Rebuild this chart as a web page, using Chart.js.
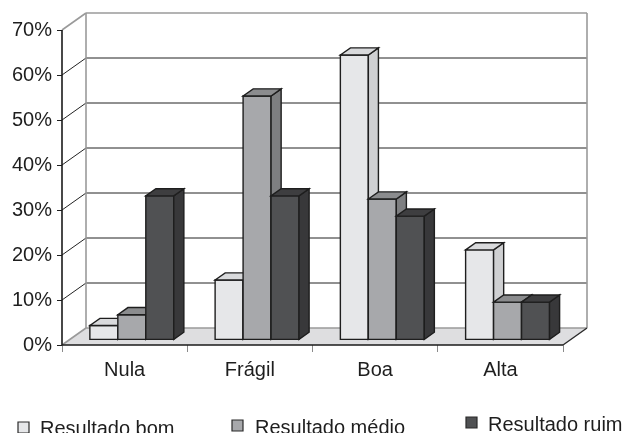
<!DOCTYPE html>
<html>
<head>
<meta charset="utf-8">
<script src="https://cdn.jsdelivr.net/npm/chart.js@4.4.1/dist/chart.umd.min.js"></script>
<style>
  html, body { margin: 0; padding: 0; background: #ffffff; }
  canvas { display: block; }
</style>
</head>
<body>
<canvas id="c" width="629" height="433"></canvas>
<script>
// Categories and series values (percent)
const categories = ['Nula', 'Frágil', 'Boa', 'Alta'];
const resultadoBom = [3.2, 13.3, 63.3, 20.0];
const resultadoMedio = [5.6, 54.2, 31.3, 8.4];
const resultadoRuim = [32.0, 32.0, 27.5, 8.4];
const seriesNames = ['Resultado bom', 'Resultado médio', 'Resultado ruim'];
const yMin = 0, yMax = 70, yStep = 10;

// Shading for each series: front, top, side faces
const palette = [
  { front: '#e6e7e9', top: '#d9dadc', side: '#cfd0d2' },
  { front: '#a7a8ab', top: '#8b8c8e', side: '#7e7f81' },
  { front: '#505153', top: '#3e3e40', side: '#38383a' }
];

// 3D projection: full floor depth, bar placement inside it
const DEPTH = { dx: 24, dy: 17 };
const BAR_FRONT = 0.30;   // fraction of depth where bar front faces sit
const BAR_DEPTH = 0.42;   // fraction of depth taken by each bar
const EDGE = '#1e1e1e';
const WALL_EDGE = '#9a9a9a';
const FONT = '"Liberation Sans", Arial, sans-serif';

const legendLayout = [
  { box: [18, 422], text: [40, 435] },
  { box: [232, 420], text: [255, 433.5] },
  { box: [466, 417], text: [488, 431] }
];

function poly(ctx, pts, fill, stroke, lw) {
  ctx.beginPath();
  ctx.moveTo(pts[0][0], pts[0][1]);
  for (let i = 1; i < pts.length; i++) ctx.lineTo(pts[i][0], pts[i][1]);
  ctx.closePath();
  if (fill) { ctx.fillStyle = fill; ctx.fill(); }
  if (stroke) { ctx.strokeStyle = stroke; ctx.lineWidth = lw || 1; ctx.stroke(); }
}

function line(ctx, x1, y1, x2, y2, color, lw) {
  ctx.beginPath();
  ctx.moveTo(x1, y1);
  ctx.lineTo(x2, y2);
  ctx.strokeStyle = color;
  ctx.lineWidth = lw || 1;
  ctx.stroke();
}

const walls3d = {
  id: 'walls3d',
  beforeDatasetsDraw(chart) {
    const { ctx, chartArea: a, scales: { y } } = chart;
    const { dx, dy } = DEPTH;
    ctx.save();
    const y0 = y.getPixelForValue(yMin);
    const yTop = y.getPixelForValue(yMax);
    // floor
    poly(ctx, [[a.left, y0], [a.right, y0], [a.right + dx, y0 - dy], [a.left + dx, y0 - dy]], '#dedee0');
    // gridlines on back wall and side wall
    for (let v = yMin + yStep; v < yMax; v += yStep) {
      const py = y.getPixelForValue(v);
      line(ctx, a.left + dx, py - dy, a.right + dx, py - dy, '#222222', 1);
      line(ctx, a.left, py, a.left + dx, py - dy, '#222222', 1);
    }
    // wall outlines
    line(ctx, a.left + dx, yTop - dy, a.right + dx, yTop - dy, WALL_EDGE, 1.6);
    line(ctx, a.left, yTop, a.left + dx, yTop - dy, WALL_EDGE, 1.6);
    line(ctx, a.left + dx, yTop - dy, a.left + dx, y0 - dy, WALL_EDGE, 1.6);
    line(ctx, a.right + dx, yTop - dy, a.right + dx, y0 - dy, WALL_EDGE, 1.6);
    line(ctx, a.left + dx, y0 - dy, a.right + dx, y0 - dy, WALL_EDGE, 1.6);
    line(ctx, a.left, y0, a.left + dx, y0 - dy, WALL_EDGE, 1.6);
    ctx.restore();
  },
  afterDatasetsDraw(chart) {
    const { ctx, chartArea: a, scales: { y } } = chart;
    const { dx, dy } = DEPTH;
    const fx = dx * BAR_FRONT, fy = dy * BAR_FRONT;
    const bx = dx * BAR_DEPTH, by = dy * BAR_DEPTH;
    ctx.save();
    ctx.lineJoin = 'miter';
    // collect bars in left-to-right order
    const bars = [];
    chart.data.datasets.forEach((ds, di) => {
      chart.getDatasetMeta(di).data.forEach((el) => {
        const p = el.getProps(['x', 'y', 'base', 'width'], true);
        bars.push({ di, x0: p.x - p.width / 2 + fx, x1: p.x + p.width / 2 + fx, yt: p.y - fy, yb: p.base - fy });
      });
    });
    bars.sort((m, n) => m.x0 - n.x0);
    bars.forEach((b) => {
      const c = palette[b.di];
      poly(ctx, [[b.x0, b.yt], [b.x1, b.yt], [b.x1, b.yb], [b.x0, b.yb]], c.front, EDGE, 1.4);
      poly(ctx, [[b.x1, b.yt], [b.x1 + bx, b.yt - by], [b.x1 + bx, b.yb - by], [b.x1, b.yb]], c.side, EDGE, 1.4);
      poly(ctx, [[b.x0, b.yt], [b.x1, b.yt], [b.x1 + bx, b.yt - by], [b.x0 + bx, b.yt - by]], c.top, EDGE, 1.4);
    });
    // front axes and floor edges
    const y0 = y.getPixelForValue(yMin);
    const yTop = y.getPixelForValue(yMax);
    line(ctx, a.right, y0, a.right + dx, y0 - dy, '#2a2a2a', 1.4);
    line(ctx, a.left, y0, a.right, y0, '#1a1a1a', 1.6);
    line(ctx, a.left, yTop, a.left, y0, '#1a1a1a', 1.6);
    ctx.restore();
  },
  afterDraw(chart) {
    const { ctx } = chart;
    ctx.save();
    ctx.font = '20px ' + FONT;
    ctx.textBaseline = 'alphabetic';
    ctx.textAlign = 'left';
    chart.data.datasets.forEach((ds, i) => {
      const L = legendLayout[i];
      poly(ctx, [[L.box[0], L.box[1]], [L.box[0] + 11, L.box[1]], [L.box[0] + 11, L.box[1] + 11], [L.box[0], L.box[1] + 11]], palette[i].front, '#2a2a2a', 1.2);
      ctx.fillStyle = '#1e1e1e';
      ctx.fillText(ds.label, L.text[0], L.text[1]);
    });
    ctx.restore();
  }
};

const datasets = [resultadoBom, resultadoMedio, resultadoRuim].map((vals, i) => ({
  label: seriesNames[i],
  data: vals,
  backgroundColor: 'rgba(0,0,0,0)',
  borderWidth: 0,
  categoryPercentage: 0.67,
  barPercentage: 1.0
}));

new Chart(document.getElementById('c'), {
  type: 'bar',
  data: { labels: categories, datasets },
  options: {
    responsive: false,
    animation: false,
    layout: { padding: { top: 30, right: 66, left: 0, bottom: 0 } },
    plugins: { legend: { display: false }, tooltip: { enabled: false } },
    scales: {
      x: {
        grid: { display: true, drawOnChartArea: false, drawTicks: true, tickLength: 7, color: '#8a8a8a', offset: true },
        border: { display: false },
        ticks: { color: '#1e1e1e', font: { family: FONT, size: 20 }, padding: 6, maxRotation: 0 },
        afterFit(s) { s.height = 88; }
      },
      y: {
        min: yMin,
        max: yMax,
        grid: { display: true, drawOnChartArea: false, drawTicks: true, tickLength: 5, color: '#1e1e1e' },
        border: { display: false },
        ticks: { stepSize: yStep, color: '#1e1e1e', font: { family: FONT, size: 20 }, padding: 5, callback: (v) => v + '%' },
        afterFit(s) { s.width = 62; }
      }
    }
  },
  plugins: [walls3d]
});
</script>
</body>
</html>
